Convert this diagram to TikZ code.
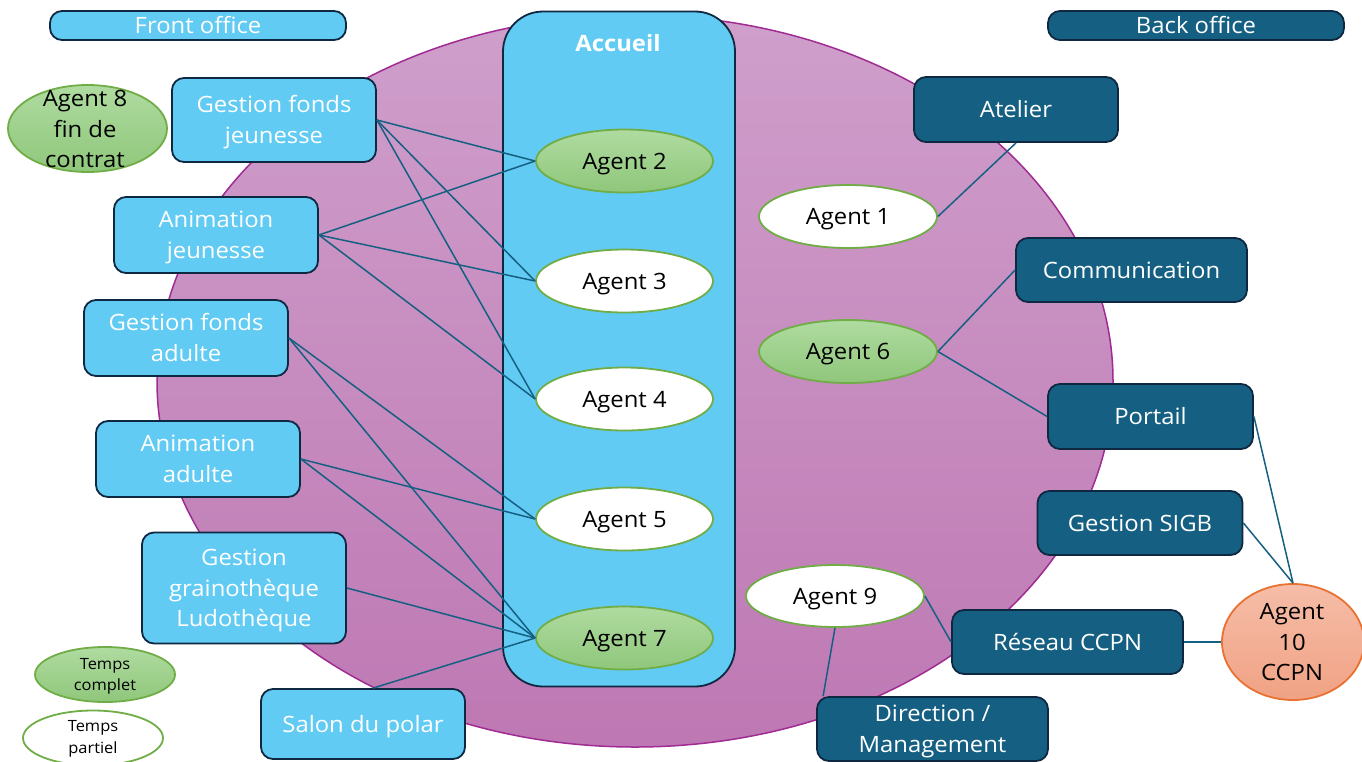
\documentclass[tikz,border=0pt]{standalone}
\usepackage{fontspec}
\setmainfont{Open Sans}[FakeStretch=1.06]
\usetikzlibrary{shapes.geometric}
\definecolor{lblue}{HTML}{61CBF3}
\definecolor{dblue}{HTML}{156082}
\definecolor{navy}{HTML}{0E2841}
\definecolor{agreen}{HTML}{70AD47}
\definecolor{gtop}{HTML}{AFDBA0}
\definecolor{gbot}{HTML}{8FC77B}
\definecolor{ptop}{HTML}{CF9FCB}
\definecolor{pbot}{HTML}{BE78B3}
\definecolor{pline}{HTML}{A02B93}
\definecolor{otop}{HTML}{F6BDA8}
\definecolor{obot}{HTML}{F0A284}
\definecolor{oline}{HTML}{E97132}
% struts so that capitals are centred vertically
\newcommand\st[1]{\rule{0pt}{22.1pt}#1\rule[-6pt]{0pt}{6pt}}
\newcommand\sts[1]{\rule{0pt}{15.1pt}#1\rule[-4pt]{0pt}{4pt}}
\begin{document}
\begin{tikzpicture}[x=1pt,y=-1pt,
  txt/.style={font=\fontsize{22.5}{30.5}\selectfont},
  box/.style={txt, draw=navy, line width=1.8, rounded corners=12, align=center, inner sep=0},
  fbox/.style={box, fill=lblue, text=white},
  bbox/.style={box, fill=dblue, text=white},
  agw/.style={txt, ellipse, draw=agreen, line width=1.8, fill=white, minimum width=177, minimum height=63, inner sep=0},
  agg/.style={agw, top color=gtop, bottom color=gbot},
  etext/.style={txt, align=center, inner sep=0},
  small/.style={font=\fontsize{15.5}{21.5}\selectfont, align=center, inner sep=0},
  conn/.style={draw=dblue, line width=1.5}
]
\useasboundingbox (0,0) rectangle (1362,761);
% background ellipse
\node[ellipse, draw=pline, line width=1.5, top color=ptop, bottom color=pbot, minimum width=956, minimum height=732, inner sep=0] (bg) at (635,381) {};
% Accueil
\node[draw=navy, line width=1.8, fill=lblue, rounded corners=40, minimum width=232, minimum height=675, inner sep=0] (acc) at (619,349) {};
\node[txt, text=white, font=\fontsize{22.5}{30.5}\selectfont\bfseries, inner sep=0] (acct) at (618,43) {\st{Accueil}};

% headers
\node[fbox, minimum width=296, minimum height=29] (front) at (198,25.5) {\st{Front office}};
\node[bbox, minimum width=296, minimum height=29] (back) at (1196,25.5) {\st{Back office}};

% front office boxes
\node[fbox, minimum width=204, minimum height=84] (gfj) at (274,120) {\st{Gestion fonds\\jeunesse}};
\node[fbox, minimum width=204, minimum height=76] (aj) at (216,235) {\st{Animation\\jeunesse}};
\node[fbox, minimum width=204, minimum height=76] (gfa) at (186,338) {\st{Gestion fonds\\adulte}};
\node[fbox, minimum width=204, minimum height=76] (aa) at (198,459) {\st{Animation\\adulte}};
\node[fbox, minimum width=204, minimum height=111] (gg) at (244,588) {\st{Gestion\\grainothèque\\Ludothèque}};
\node[fbox, minimum width=204, minimum height=70] (salon) at (363,724) {\st{Salon du polar}};

% back office boxes
\node[bbox, minimum width=204, minimum height=65] (atelier) at (1016,109.5) {\st{Atelier}};
\node[bbox, minimum width=231, minimum height=64] (comm) at (1131.5,270) {\st{Communication}};
\node[bbox, minimum width=205, minimum height=65] (portail) at (1150.5,416.5) {\st{Portail}};
\node[bbox, minimum width=205, minimum height=64] (sigb) at (1140,523) {\st{Gestion SIGB}};
\node[bbox, minimum width=231, minimum height=64] (reseau) at (1067.5,642) {\st{Réseau CCPN}};
\node[bbox, minimum width=231, minimum height=64] (dir) at (932.5,729) {\st{Direction /\\Management}};

% agents in Accueil
\node[agg] (ag2) at (624.5,161) {\st{Agent 2}};
\node[agw] (ag3) at (624.5,281) {\st{Agent 3}};
\node[agw] (ag4) at (624.5,399) {\st{Agent 4}};
\node[agw] (ag5) at (624.5,519) {\st{Agent 5}};
\node[agg] (ag7) at (624.5,638) {\st{Agent 7}};

% back office agents
\node[agw, minimum width=178] (ag1) at (848,216.5) {\st{Agent 1}};
\node[agg, minimum width=178] (ag6) at (848,351.5) {\st{Agent 6}};
\node[agw, minimum width=178, minimum height=62] (ag9) at (835,596) {\st{Agent 9}};

% Agent 8
\node[agg, minimum width=159, minimum height=87] (ag8) at (87.5,128.5) {};
\node[etext] (ag8t) at (85,129) {\st{Agent 8\\fin de\\contrat}};

% Agent 10
\node[ellipse, draw=oline, line width=1.8, top color=otop, bottom color=obot, minimum width=142, minimum height=116, inner sep=0] (ag10) at (1293,642) {};
\node[etext] (ag10t) at (1292,642) {\st{Agent\\10\\CCPN}};

% legend
\node[agg, minimum width=140, minimum height=55] (tc) at (105,674.5) {};
\node[small] (tct) at (tc) {\sts{Temps\\complet}};
\node[agw, minimum width=140, minimum height=55] (tp) at (93,738) {};
\node[small] (tpt) at (93,737) {\sts{Temps\\partiel}};

% connectors front office
\draw[conn] (gfj.east) -- (ag2.west);
\draw[conn] (gfj.east) -- (ag3.west);
\draw[conn] (gfj.east) -- (ag4.west);
\draw[conn] (aj.east) -- (ag2.west);
\draw[conn] (aj.east) -- (ag3.west);
\draw[conn] (aj.east) -- (ag4.west);
\draw[conn] (gfa.east) -- (ag5.west);
\draw[conn] (gfa.east) -- (ag7.west);
\draw[conn] (aa.east) -- (ag5.west);
\draw[conn] (aa.east) -- (ag7.west);
\draw[conn] (gg.east) -- (ag7.west);
\draw[conn] ([xshift=10pt]salon.north) -- (ag7.west);

% connectors back office
\draw[conn] (ag1.east) -- (atelier.south);
\draw[conn] (ag6.east) -- (comm.west);
\draw[conn] (ag6.east) -- (portail.west);
\draw[conn] (portail.east) -- (ag10.north);
\draw[conn] (sigb.east) -- (ag10.north);
\draw[conn] (reseau.east) -- (ag10.west);
\draw[conn] (ag9.east) -- (reseau.west);
\draw[conn] (ag9.south) -- ([xshift=7pt]dir.north west);
\end{tikzpicture}
\end{document}
